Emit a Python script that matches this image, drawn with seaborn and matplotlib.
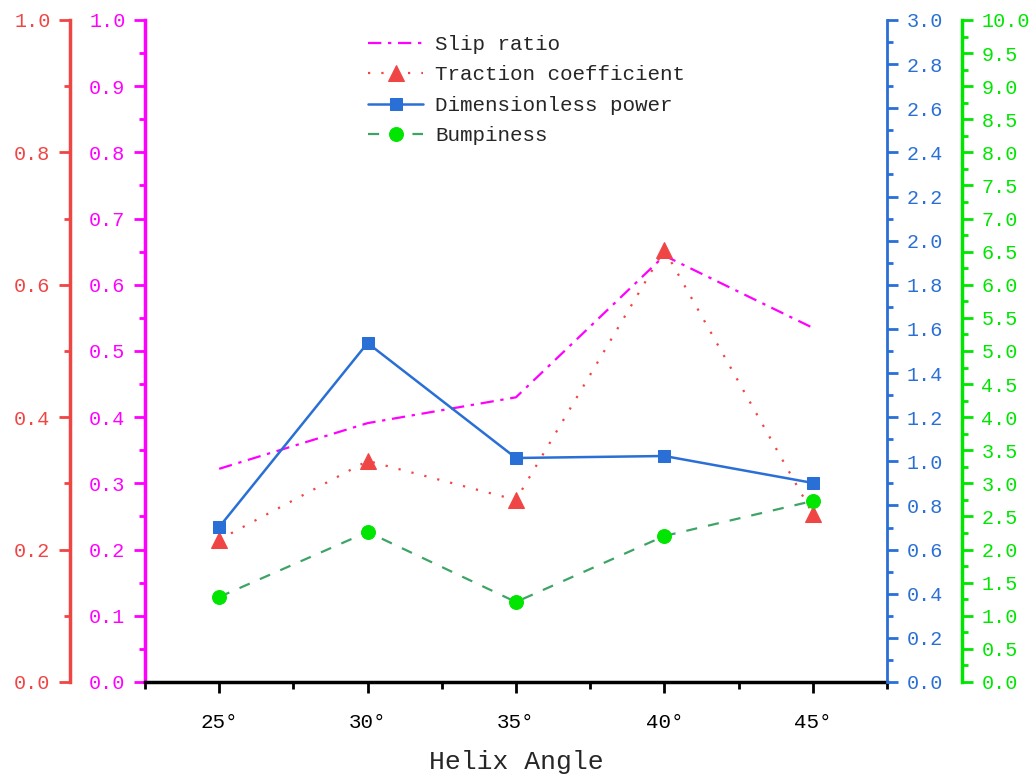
import numpy as np
import pandas as pd
import matplotlib.pyplot as plt
from matplotlib.ticker import MultipleLocator, FormatStrFormatter
import seaborn as sns

# data
angles = ['25°', '30°', '35°', '40°', '45°']
slip_ratio = [0.322, 0.391, 0.430, 0.644, 0.535]
traction = [0.215, 0.334, 0.275, 0.653, 0.254]
power = [0.702, 1.536, 1.015, 1.024, 0.902]
bumpiness = [1.284, 2.266, 1.208, 2.205, 2.734]

df = pd.DataFrame({'pos': np.arange(len(angles)), 'angle': angles,
                   'slip': slip_ratio, 'traction': traction,
                   'power': power, 'bump': bumpiness})

sns.set_style('ticks')
plt.rcParams['font.family'] = ['Liberation Mono', 'DejaVu Sans Mono']

MAG = '#FF00FF'
RED = '#F04545'
BLUE = '#2A6FD6'
GREEN = '#00E600'
GLINE = '#3DA466'

fig = plt.figure(figsize=(10.34, 7.77), dpi=100)
ax = fig.add_axes([0.1402, 0.1223, 0.7176, 0.8520])
ax_r = ax.twinx()
ax_b = ax.twinx()
ax_g = ax.twinx()

sns.lineplot(data=df, x='pos', y='slip', ax=ax, color=MAG, lw=1.6,
             linestyle=(0, (6, 3, 1.5, 3)), label='Slip ratio', legend=False)
sns.lineplot(data=df, x='pos', y='traction', ax=ax_r, color=RED, lw=1.6,
             linestyle=(0, (1, 5)), marker='^', markersize=11,
             markeredgecolor=RED, label='Traction coefficient', legend=False)
sns.lineplot(data=df, x='pos', y='power', ax=ax_b, color=BLUE, lw=1.8,
             marker='s', markersize=9, markeredgecolor=BLUE,
             label='Dimensionless power', legend=False)
sns.lineplot(data=df, x='pos', y='bump', ax=ax_g, color=GLINE, lw=1.6,
             linestyle=(0, (5, 5)), marker='o', markersize=10,
             markerfacecolor=GREEN, markeredgecolor=GREEN,
             label='Bumpiness', legend=False)

ax.set_xlim(-0.5, len(angles) - 0.5)
ax.set_xticks(df['pos'])
ax.set_xticklabels(angles)
ax.set_xticks(np.arange(-0.5, len(angles), 1.0), minor=True)
ax.set_xlabel('Helix Angle', fontsize=19, labelpad=13)
ax.tick_params(axis='x', which='major', length=8, width=2, labelsize=15, pad=14)
ax.tick_params(axis='x', which='minor', length=5, width=2)

# axis setup: (axes, color, limit, major, minor, side, position)
setup = [
    (ax, MAG, 1.0, 0.1, 0.05, 'left', 0.0),
    (ax_r, RED, 1.0, 0.2, 0.1, 'left', -0.101),
    (ax_b, BLUE, 3.0, 0.2, 0.1, 'right', 1.0),
    (ax_g, GREEN, 10.0, 0.5, 0.25, 'right', 1.101),
]
for a, col, top, major, minor, side, pos in setup:
    a.set_ylim(0, top)
    a.set_ylabel('')
    a.yaxis.set_major_locator(MultipleLocator(major))
    a.yaxis.set_minor_locator(MultipleLocator(minor))
    a.yaxis.set_major_formatter(FormatStrFormatter('%.1f'))
    for s in a.spines.values():
        s.set_visible(False)
    a.spines[side].set_visible(True)
    a.spines[side].set_position(('axes', pos))
    a.spines[side].set_color(col)
    a.spines[side].set_linewidth(2.5)
    a.yaxis.set_ticks_position(side)
    a.yaxis.set_label_position(side)
    a.tick_params(axis='y', which='major', colors=col, length=8, width=2,
                  labelsize=14.5, direction='out', pad=6)
    a.tick_params(axis='y', which='minor', colors=col, length=4, width=2,
                  direction='out')
    a.tick_params(axis='x', which='both', bottom=False, top=False)

ax.spines['bottom'].set_visible(True)
ax.spines['bottom'].set_color('black')
ax.spines['bottom'].set_linewidth(2.5)
ax.tick_params(axis='x', which='both', bottom=True, colors='black')
ax_b.spines['right'].set_linewidth(2)

handles, labels = [], []
for a in (ax, ax_r, ax_b, ax_g):
    h, l = a.get_legend_handles_labels()
    handles += h
    labels += l
ax_g.legend(handles, labels, loc='upper left', bbox_to_anchor=(0.29, 0.99),
            frameon=False, fontsize=15, handlelength=2.6, labelspacing=0.55,
            handletextpad=0.6, borderaxespad=0)

fig.savefig('out.png', dpi=100)
